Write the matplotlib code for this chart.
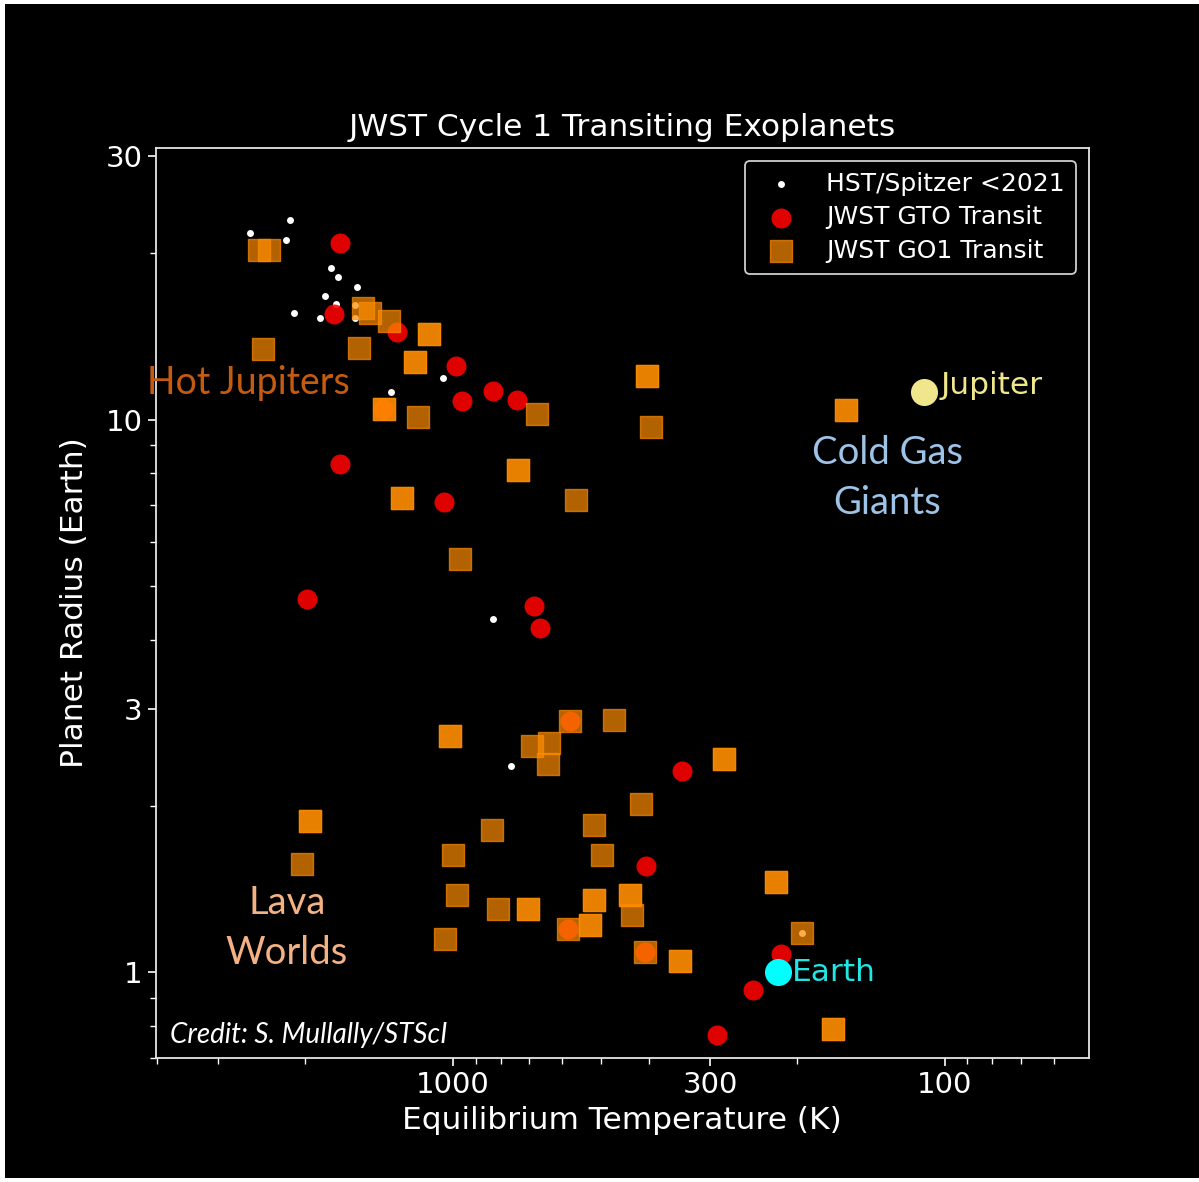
import matplotlib
matplotlib.use('Agg')
import matplotlib.pyplot as plt
from matplotlib.patches import Rectangle

# ---------------- data ----------------
hst_temp = [2594, 2144, 2188, 1770, 1711, 1569, 1823, 1731, 2102, 1863, 1582, 1582,
            1046, 1337, 829, 762, 195]
hst_radius = [21.8, 23.0, 21.1, 18.8, 18.1, 17.4, 16.7, 16.2, 15.6, 15.3, 16.1, 15.3,
              11.9, 11.2, 4.35, 2.36, 1.18]

gto_temp = [1697, 1748, 1301, 986, 960, 828, 740, 1043, 1697, 1981, 684, 666,
            343, 406, 215, 246, 291, 577, 583, 407, 1386]
gto_radius = [20.9, 15.5, 14.4, 12.5, 10.8, 11.25, 10.85, 7.1, 8.3, 4.73, 4.6, 4.2,
              2.31, 1.56, 1.08, 0.93, 0.77, 2.85, 1.2, 1.09, 10.45]

go1_temp = [2480, 2366, 1522, 1475, 1353, 1117, 2430, 1550, 1194, 1381,
            1176, 404, 395, 674, 739, 1272, 561, 159, 968, 1014,
            577, 471, 690, 637, 642, 281, 415, 834, 516, 1001,
            499, 980, 811, 705, 516, 437, 432, 527, 583, 1038,
            407, 346, 220, 195, 169, 1953, 2027]
go1_radius = [20.3, 20.3, 15.9, 15.6, 15.1, 14.3, 13.4, 13.5, 12.7, 10.45,
              10.1, 12.0, 9.7, 10.25, 8.1, 7.2, 7.15, 10.4, 5.6, 2.68,
              2.85, 2.86, 2.57, 2.6, 2.38, 2.43, 2.02, 1.81, 1.85, 1.63,
              1.63, 1.38, 1.30, 1.30, 1.35, 1.38, 1.27, 1.22, 1.2, 1.15,
              1.09, 1.05, 1.46, 1.18, 0.79, 1.88, 1.57]
# planets targeted by more than one GO1 program (plotted again)
go1_repeat_temp = [1117, 1194, 1381, 404, 739, 1272, 159, 1014, 281, 705, 516,
                   437, 527, 346, 220, 169, 1953]
go1_repeat_radius = [14.3, 12.7, 10.45, 12.0, 8.1, 7.2, 10.4, 2.68, 2.43, 1.30, 1.35,
                     1.38, 1.22, 1.05, 1.46, 0.79, 1.88]

jupiter_temp, jupiter_radius = 110, 11.2
earth_temp, earth_radius = 218, 1.0

x_ticks = [1000, 300, 100]
y_ticks = [1, 3, 10, 30]

# ---------------- figure ----------------
W, H = 1199, 1182
fig = plt.figure(figsize=(W / 100, H / 100), dpi=100, facecolor='white')
fig.patches.append(Rectangle((5 / W, 4 / H), 1 - 5 / W, 1 - 8 / H,
                             transform=fig.transFigure, facecolor='black',
                             edgecolor='none', zorder=-10))

ax = fig.add_axes([156 / W, 1 - 1058 / H, (1088.5 - 156) / W, (1058 - 148) / H])
ax.set_facecolor('black')

ax.scatter(hst_temp, hst_radius, s=25, c='white', linewidths=0,
           label='HST/Spitzer <2021', zorder=2)
ax.scatter(gto_temp, gto_radius, s=207, c='red', alpha=0.88, linewidths=0,
           label='JWST GTO Transit', zorder=3)
ax.scatter(go1_temp + go1_repeat_temp, go1_radius + go1_repeat_radius, s=250,
           marker='s', c='darkorange', alpha=0.7, label='JWST GO1 Transit', zorder=4)

ax.scatter([jupiter_temp], [jupiter_radius], s=380, c='#F0E68C', linewidths=0, zorder=6)
ax.scatter([earth_temp], [earth_radius], s=380, c='cyan', linewidths=0, zorder=6)
ax.text(102, jupiter_radius * 1.03, 'Jupiter', color='#F0E68C', fontsize=22.5,
        ha='left', va='center', zorder=7)
ax.text(205, earth_radius, 'Earth', color='#22E6E6', fontsize=22.5,
        ha='left', va='center', zorder=7)

ax.set_xscale('log')
ax.set_yscale('log')
ax.set_xlim(4020, 51)
ax.set_ylim(0.7, 31)
ax.set_xticks(x_ticks)
ax.set_xticklabels([str(t) for t in x_ticks])
ax.set_yticks(y_ticks)
ax.set_yticklabels([str(t) for t in y_ticks])
ax.tick_params(axis='both', which='major', colors='white', labelsize=21,
               length=6, width=1.2)
ax.tick_params(axis='both', which='minor', colors='white', length=4, width=1)
ax.tick_params(axis='x', which='minor', labelbottom=False)
ax.tick_params(axis='y', which='minor', labelleft=False)
for sp in ax.spines.values():
    sp.set_color('#E6E6E6')
    sp.set_linewidth(1.3)

ax.set_xlabel('Equilibrium Temperature (K)', color='white', fontsize=22.5, labelpad=5)
ax.set_ylabel('Planet Radius (Earth)', color='white', fontsize=22.5, labelpad=12)
ax.set_title('JWST Cycle 1 Transiting Exoplanets', color='white', fontsize=22.5, pad=9)

leg = ax.legend(loc='upper right', fontsize=18, facecolor='black', edgecolor='#CFCFCF',
                framealpha=1, labelspacing=0.38, handletextpad=0.8, borderpad=0.45)
for t in leg.get_texts():
    t.set_color('white')
leg.get_frame().set_linewidth(1.3)

# ---------------- overlay annotations ----------------
fig.text(147 / W, 1 - 383 / H, 'Hot Jupiters', color='#C55A11', fontsize=27,
         family='Lato', ha='left', va='center')
fig.text(287 / W, 1 - 903 / H, 'Lava', color='#F4B183', fontsize=27.5,
         family='Lato', ha='center', va='center')
fig.text(287 / W, 1 - 953 / H, 'Worlds', color='#F4B183', fontsize=27.5,
         family='Lato', ha='center', va='center')
fig.text(887 / W, 1 - 453 / H, 'Cold Gas', color='#9DC3E6', fontsize=27.5,
         family='Lato', ha='center', va='center')
fig.text(887 / W, 1 - 503 / H, 'Giants', color='#9DC3E6', fontsize=27.5,
         family='Lato', ha='center', va='center')
fig.text(170 / W, 1 - 1035 / H, 'Credit: S. Mullally/STScI', color='white', fontsize=20,
         family='Lato', style='italic', ha='left', va='center')

fig.savefig('out.png', dpi=100, facecolor=fig.get_facecolor())
